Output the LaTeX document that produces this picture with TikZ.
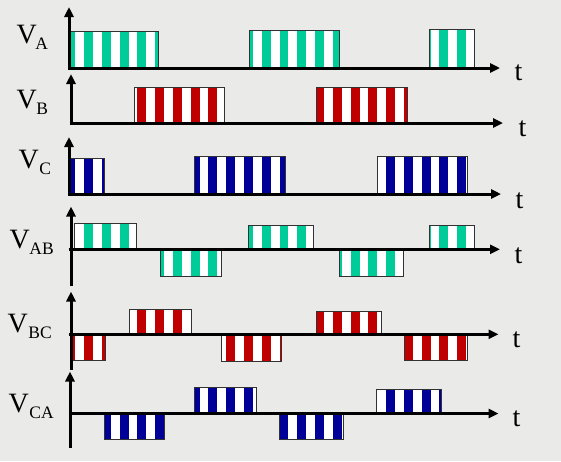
\documentclass[tikz,border=0pt]{standalone}
\usepackage{fontspec}
\setmainfont{Liberation Serif}
\usetikzlibrary{arrows.meta}
\definecolor{bgc}{RGB}{234,234,232}
\definecolor{cgreen}{RGB}{0,204,153}
\definecolor{cred}{RGB}{192,0,0}
\definecolor{cblue}{RGB}{0,0,153}
\definecolor{edge}{RGB}{50,50,50}
\newcommand\StripeBox[5]{%
  \fill[white] (#1,#2) rectangle (#3,#4);
  \begin{scope}
    \clip (#1,#2) rectangle (#3,#4);
    \foreach \k in {0,...,27} {\fill[#5] ({13+17.77*\k},#2) rectangle ({13+17.77*\k+8.9},#4);}
  \end{scope}
  \draw[boxline] (#1,#2) rectangle (#3,#4);
}
\newcommand\SubTxt[1]{\raisebox{-6pt}{\fontsize{17.5}{18}\selectfont #1}}
\begin{document}
\begin{tikzpicture}[x=1pt,y=-1pt,
  boxline/.style={draw=edge,line width=1pt},
  axis/.style={line width=3pt,-{Triangle[length=10pt,width=9pt]}},
  axisd/.style={line width=3pt,{Triangle[length=10pt,width=9pt]}-{Triangle[length=10pt,width=9pt]}},
  lab/.style={font=\fontsize{28}{30}\selectfont,anchor=base west,inner sep=0pt},
  tlab/.style={font=\fontsize{28}{30}\selectfont,anchor=base west,inner sep=0pt}]
\useasboundingbox (0,0) rectangle (561,461);
\fill[bgc] (0,0) rectangle (561,461);
% V_A
\StripeBox{68.5}{31.5}{158.5}{68}{cgreen}
\StripeBox{249}{30}{339}{68}{cgreen}
\StripeBox{429.5}{29}{474.5}{68}{cgreen}
% V_B
\StripeBox{134}{87.3}{224}{123}{cred}
\StripeBox{316.5}{87}{407}{123}{cred}
% V_C
\StripeBox{68.5}{158.3}{104.3}{194}{cblue}
\StripeBox{194.3}{156}{285}{194}{cblue}
\StripeBox{377.7}{156}{467.7}{194}{cblue}
% V_AB
\StripeBox{74}{223.3}{136.5}{249.3}{cgreen}
\StripeBox{248.5}{225.7}{313.3}{249.3}{cgreen}
\StripeBox{429.3}{225.7}{474.3}{249.3}{cgreen}
\StripeBox{160.3}{249.3}{221}{276}{cgreen}
\StripeBox{339.3}{249.3}{403.3}{276}{cgreen}
% V_BC
\StripeBox{129}{309}{191}{334.3}{cred}
\StripeBox{316.7}{311.5}{381}{334.3}{cred}
\StripeBox{72.7}{334.3}{105.3}{360}{cred}
\StripeBox{221}{334.3}{281.7}{361.5}{cred}
\StripeBox{404}{334.3}{467.7}{360.3}{cred}
% V_CA
\StripeBox{194.3}{387.3}{256.8}{413.5}{cblue}
\StripeBox{376.7}{389}{441.7}{413.5}{cblue}
\StripeBox{104}{413.5}{164.3}{439.3}{cblue}
\StripeBox{279.3}{413.5}{343.5}{439.3}{cblue}
% axes
\coordinate (a1) at (69,7);   \coordinate (a2) at (69,68);   \coordinate (a3) at (500,68);
\draw[axisd] (a1) -- (a2) -- (a3);
\coordinate (b1) at (71,74);  \coordinate (b2) at (71,123);  \coordinate (b3) at (503,123);
\draw[axisd] (b1) -- (b2) -- (b3);
\coordinate (c1) at (69,137); \coordinate (c2) at (69,194);  \coordinate (c3) at (501,194);
\draw[axisd] (c1) -- (c2) -- (c3);
\coordinate (d1) at (71,206.5); \coordinate (d2) at (71,286); \coordinate (d3) at (68.5,249.3); \coordinate (d4) at (500,249.3);
\draw[axis] (d2) -- (d1); \draw[axis] (d3) -- (d4);
\coordinate (e1) at (71,291.5); \coordinate (e2) at (71,369.5); \coordinate (e3) at (68.5,334.3); \coordinate (e4) at (498.5,334.3);
\draw[axis] (e2) -- (e1); \draw[axis] (e3) -- (e4);
\coordinate (f1) at (70,371.5); \coordinate (f2) at (70,448); \coordinate (f3) at (68.5,413.5); \coordinate (f4) at (498.5,413.5);
\draw[axis] (f2) -- (f1); \draw[axis] (f3) -- (f4);
% labels
\node[lab] (la) at (16.5,43.3) {V\kern-1.5pt\SubTxt{A}};
\node[lab] (lb) at (16.5,108.3) {V\kern-0.5pt\SubTxt{B}};
\node[lab] (lc) at (18.5,168.3) {V\kern0.5pt\SubTxt{C}};
\node[lab] (lab) at (9.5,248.3) {V\kern-0.5pt\SubTxt{AB}};
\node[lab] (lbc) at (7.5,332.3) {V\kern0.5pt\SubTxt{BC}};
\node[lab] (lca) at (8.5,412) {V\kern0.5pt\SubTxt{CA}};
\node[tlab] (ta) at (514.5,80) {t};
\node[tlab] (tb) at (518.5,136.5) {t};
\node[tlab] (tc) at (515.5,208.3) {t};
\node[tlab] (tab) at (514.5,263.3) {t};
\node[tlab] (tbc) at (512.5,347.3) {t};
\node[tlab] (tca) at (512.5,426.7) {t};
\end{tikzpicture}
\end{document}
